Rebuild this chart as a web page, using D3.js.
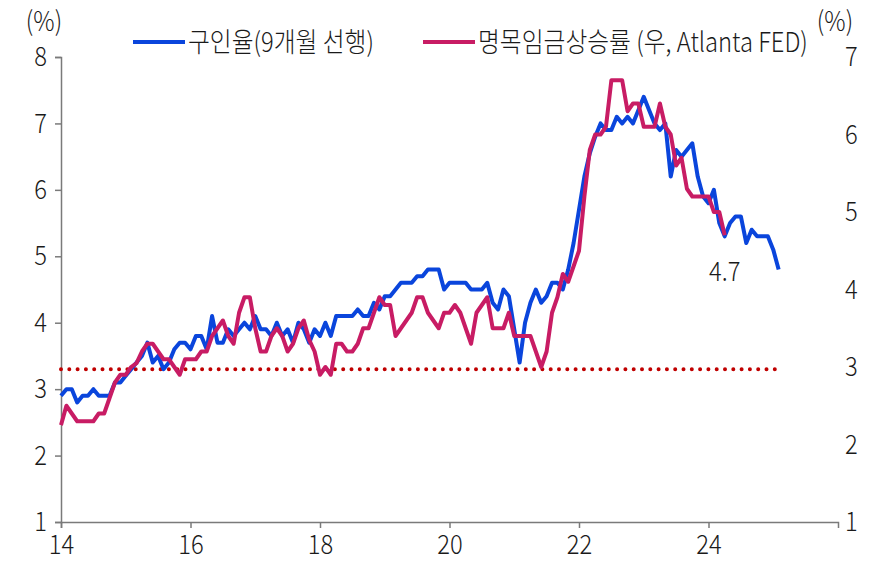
<!DOCTYPE html>
<html>
<head>
<meta charset="utf-8">
<script src="https://cdn.jsdelivr.net/npm/d3@7/dist/d3.min.js"></script>
<style>
body { margin: 0; background: #fff; }
svg text { font-family: "Noto Sans CJK KR", "Noto Sans", sans-serif; font-weight: 300; fill: #1a1a1a; }
</style>
</head>
<body>
<svg width="889" height="561"></svg>
<script>
// monthly series, first point = Jan 2014 (x axis in 2-digit years)
var startYear = 14;

// job openings rate, 9 months lead (left axis)
var openings = [
  2.9, 3.0, 3.0, 2.8, 2.9, 2.9, 3.0, 2.9, 2.9, 2.9,
  3.1, 3.1, 3.2, 3.3, 3.4, 3.5, 3.7, 3.4, 3.5, 3.3,
  3.4, 3.6, 3.7, 3.7, 3.6, 3.8, 3.8, 3.6, 4.1, 3.7,
  3.7, 3.9, 3.8, 3.9, 4.0, 3.9, 4.1, 3.9, 3.9, 3.8,
  4.0, 3.8, 3.9, 3.7, 4.0, 3.9, 3.7, 3.9, 3.8, 4.0,
  3.8, 4.1, 4.1, 4.1, 4.1, 4.2, 4.1, 4.1, 4.3, 4.2,
  4.4, 4.4, 4.5, 4.6, 4.6, 4.6, 4.7, 4.7, 4.8, 4.8,
  4.8, 4.5, 4.6, 4.6, 4.6, 4.6, 4.5, 4.5, 4.5, 4.6,
  4.3, 4.2, 4.5, 4.4, 3.9, 3.4, 4.0, 4.3, 4.5, 4.3,
  4.4, 4.6, 4.6, 4.5, 4.8, 5.2, 5.7, 6.2, 6.55, 6.8,
  7.0, 6.9, 6.9, 7.1, 7.0, 7.1, 7.0, 7.2, 7.4, 7.2,
  7.0, 6.9, 7.0, 6.2, 6.6, 6.5, 6.6, 6.7, 6.2, 5.9,
  5.8, 6.0, 5.5, 5.3, 5.5, 5.6, 5.6, 5.2, 5.4, 5.3,
  5.3, 5.3, 5.1, 4.8
];

// Atlanta Fed wage growth tracker (right axis)
var wages = [
  2.25, 2.5, 2.4, 2.3, 2.3, 2.3, 2.3, 2.4, 2.4, 2.6,
  2.8, 2.9, 2.9, 3.0, 3.05, 3.2, 3.3, 3.3, 3.2, 3.1,
  3.1, 3.0, 2.9, 3.1, 3.1, 3.1, 3.2, 3.2, 3.4, 3.5,
  3.6, 3.4, 3.3, 3.7, 3.9, 3.9, 3.5, 3.2, 3.2, 3.4,
  3.5, 3.4, 3.2, 3.3, 3.5, 3.6, 3.35, 3.2, 2.9, 3.0,
  2.9, 3.3, 3.3, 3.2, 3.2, 3.3, 3.5, 3.5, 3.7, 3.9,
  3.8, 3.8, 3.4, 3.5, 3.6, 3.7, 3.9, 3.9, 3.7, 3.6,
  3.5, 3.7, 3.7, 3.8, 3.7, 3.5, 3.3, 3.7, 3.8, 3.9,
  3.5, 3.5, 3.5, 3.7, 3.4, 3.4, 3.4, 3.4, 3.2, 3.0,
  3.2, 3.7, 3.9, 4.2, 4.1, 4.3, 4.5, 5.2, 5.8, 6.0,
  6.0, 6.1, 6.7, 6.7, 6.7, 6.3, 6.4, 6.4, 6.1, 6.1,
  6.1, 6.4, 6.1, 6.0, 5.6, 5.7, 5.3, 5.2, 5.2, 5.2,
  5.2, 5.0, 5.0, 4.7
];

var refLevel = 3.3;          // dotted reference, left axis
var refSpan = [14, 25.1];
var xTicks = [14, 16, 18, 20, 22, 24];
var leftTicks = [1, 2, 3, 4, 5, 6, 7, 8];
var rightTicks = [1, 2, 3, 4, 5, 6, 7];
var seriesNames = ["구인율(9개월 선행)", "명목임금상승률 (우, Atlanta FED)"];
var lastLabel = "4.7";

var svg = d3.select("svg");
var squeeze = "scale(0.88,1)";
var fs = 27;

var x = d3.scaleLinear().domain([14, 26]).range([61, 838]);
var yL = d3.scaleLinear().domain([1, 8]).range([522, 57]);
var yR = d3.scaleLinear().domain([1, 7]).range([522, 57]);

var monthX = function(d, i) { return x(startYear + i / 12); };
var fmt = d3.format("d");

// axes
var gx = svg.append("g")
    .attr("transform", "translate(0,522)")
    .call(d3.axisBottom(x).tickValues(xTicks).tickSize(6).tickPadding(7).tickFormat(fmt));
var gl = svg.append("g")
    .attr("transform", "translate(61,0)")
    .call(d3.axisLeft(yL).tickValues(leftTicks).tickSize(6).tickPadding(10).tickFormat(fmt));
var gr = svg.append("g")
    .attr("transform", "translate(838,0)")
    .call(d3.axisRight(yR).tickValues(rightTicks).tickSize(0).tickPadding(8).tickFormat(fmt));
gr.select(".domain").remove();

[gx, gl, gr].forEach(function(g) {
  g.attr("font-size", null).attr("font-family", null);
  g.selectAll(".domain").attr("stroke", "#7a7a7a").attr("stroke-width", 1.5);
  g.selectAll(".tick line").attr("stroke", "#7a7a7a").attr("stroke-width", 1.5);
  g.selectAll("text")
    .attr("font-size", fs)
    .attr("fill", "#1a1a1a")
    .attr("transform", squeeze);
});

// dotted reference line
svg.append("path")
    .datum(refSpan)
    .attr("fill", "none")
    .attr("stroke", "#c00000")
    .attr("stroke-width", 4)
    .attr("stroke-linecap", "round")
    .attr("stroke-dasharray", "0 8.3")
    .attr("d", d3.line().x(function(d) { return x(d); }).y(yL(refLevel)));

// series
svg.append("path")
    .datum(openings)
    .attr("fill", "none")
    .attr("stroke", "#0a45dc")
    .attr("stroke-width", 4)
    .attr("stroke-linejoin", "round")
    .attr("d", d3.line().x(monthX).y(function(d) { return yL(d); }));

svg.append("path")
    .datum(wages)
    .attr("fill", "none")
    .attr("stroke", "#c81c64")
    .attr("stroke-width", 4)
    .attr("stroke-linejoin", "round")
    .attr("d", d3.line().x(monthX).y(function(d) { return yR(d); }));

// last value label
svg.append("text")
    .attr("transform", "translate(" + x(startYear + (wages.length - 1) / 12) + "," + 281 + ")" + squeeze)
    .attr("text-anchor", "middle")
    .attr("font-size", fs)
    .text(lastLabel);

// unit labels
svg.append("text")
    .attr("transform", "translate(44,31)" + squeeze)
    .attr("text-anchor", "middle")
    .attr("font-size", fs)
    .text("(%)");
svg.append("text")
    .attr("transform", "translate(835,31)" + squeeze)
    .attr("text-anchor", "middle")
    .attr("font-size", fs)
    .text("(%)");

// legend
var legend = [
  { name: seriesNames[0], color: "#0a45dc", x0: 133 },
  { name: seriesNames[1], color: "#c81c64", x0: 423 }
];
var lg = svg.append("g").selectAll("g").data(legend).enter().append("g")
    .attr("transform", function(d) { return "translate(" + d.x0 + ",42)"; });
lg.append("line")
    .attr("x1", 0).attr("x2", 52)
    .attr("stroke", function(d) { return d.color; })
    .attr("stroke-width", 4);
lg.append("text")
    .attr("transform", "translate(55,0)" + squeeze)
    .attr("dy", "0.36em")
    .attr("font-size", fs)
    .text(function(d) { return d.name; });
</script>
</body>
</html>
